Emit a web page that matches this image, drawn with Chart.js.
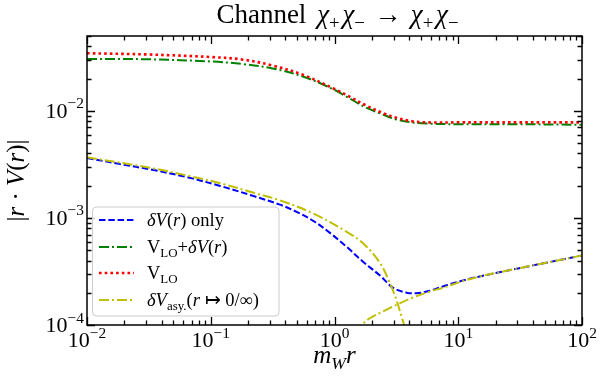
<!DOCTYPE html>
<html><head><meta charset="utf-8">
<script src="https://cdn.jsdelivr.net/npm/chart.js@4.4.0/dist/chart.umd.min.js"></script>
<style>html,body{margin:0;padding:0;background:#fff;}canvas{display:block;}</style>
</head><body>
<canvas id="c" width="603" height="381"></canvas>
<script>
// ---- data ----
const xLO    = [0.01, 0.0316, 0.1, 0.178, 0.316, 0.562, 1, 1.334, 1.778, 2.371, 3.162, 4.217, 5.623, 10, 31.62, 100];
const yLO    = [0.0345, 0.0336, 0.0318, 0.0302, 0.0265, 0.0216, 0.0160, 0.0135, 0.0113, 0.0097, 0.0086, 0.0080, 0.0078, 0.0078, 0.0078, 0.0078];
const yLOdV  = [0.0305, 0.0303, 0.0289, 0.0274, 0.0249, 0.0208, 0.0157, 0.0130, 0.0108, 0.0094, 0.0083, 0.0078, 0.0076, 0.0075, 0.0075, 0.0074];

const xdV = [0.01, 0.0185, 0.0346, 0.0643, 0.119, 0.222, 0.362, 0.494, 0.673, 0.918, 1.25, 1.70, 2.33, 2.98, 3.82, 4.60, 5.90, 8.04, 10.95, 14.9, 24.2, 50.1, 100];
const ydV = [0.00363, 0.00318, 0.00280, 0.00240, 0.00199, 0.00160, 0.00133, 0.00114, 0.000940, 0.000725, 0.000539, 0.000390, 0.000290, 0.000222, 0.0002005, 0.000198, 0.000209, 0.000235, 0.000261, 0.000284, 0.000320, 0.000379, 0.000446];

const xAsy0 = [0.01, 0.0346, 0.0643, 0.119, 0.222, 0.362, 0.673, 1.25, 1.70, 2.33, 2.80, 3.17, 3.48, 3.64, 3.80, 3.95];
const yAsy0 = [0.00368, 0.00290, 0.00249, 0.00211, 0.00172, 0.00146, 0.00110, 0.000744, 0.00058, 0.000380, 0.000247, 0.000171, 0.00012, 0.0001, 0.00006, 0.00001];

const xAsyInf = [1.45, 1.655, 1.93, 2.47, 3.27, 4.32, 5.90, 8.04, 10.95, 14.9, 24.2, 50.1, 100];
const yAsyInf = [0.000085, 0.0001, 0.0001156, 0.000134, 0.000157, 0.000181, 0.000205, 0.000228, 0.000258, 0.000284, 0.000320, 0.000379, 0.000446];

const xMajor = [0.01, 0.1, 1, 10, 100];
const xTickExp = ['\u22122', '\u22121', '0', '1', '2'];
const yMajor = [1e-4, 1e-3, 1e-2];
const yTickExp = ['\u22124', '\u22123', '\u22122'];
const xRange = [0.01, 100];
const yRange = [1e-4, 0.05];

const legendLabels = [
  [['\u03b4','i'],['V','i'],['(','r'],['r','i'],[')','r'],[' only','r']],
  [['V','r'],['LO','sub'],['+','r'],['\u03b4','i'],['V','i'],['(','r'],['r','i'],[')','r']],
  [['V','r'],['LO','sub']],
  [['\u03b4','i'],['V','i'],['asy.','sub'],['(','r'],['r','i'],[' \u21a6 ','r'],['0/\u221e','r'],[')','r']]
];
const titleParts = [['Channel','r'],[0.4,'gap'],['\u03c7','i'],['+','sub'],[0.1,'gap'],['\u03c7','i'],['\u2212','sub'],[0.35,'gap'],['\u2192','r'],[0.35,'gap'],['\u03c7','i'],['+','sub'],[0.1,'gap'],['\u03c7','i'],['\u2212','sub']];
const xLabelParts = [['m','i'],['W','subi'],['r','i']];
const yLabelParts = [['|','r'],['r','i'],[' \u00b7 ','r'],['V','i'],['(','r'],['r','i'],[')','r'],['|','r']];

// ---- styles ----
const S = {
  dV:  {color:'#0000ff', width:2,   dash:[6.5,2.8]},
  LOdV:{color:'#008000', width:2,   dash:[10,3,2,3]},
  LO:  {color:'#ff0000', width:2.6, dash:[2.6,3.1]},
  asy: {color:'#bfbf00', width:2,   dash:[10,3,2,3]}
};
const SERIF = '"Liberation Serif", "Times New Roman", serif';
function fnt(size, it){ return (it ? 'italic ' : '') + size + 'px ' + SERIF; }
function drawRich(ctx, parts, x, y, size, align){
  const segs = parts.map(([t,k]) => {
    if (k === 'gap') return {t: '', s: size, dy: 0, it: false, w: t*size};
    let s = size, dy = 0, it = (k === 'i');
    if (k === 'sub' || k === 'subi'){ s = size*0.7; dy = size*0.22; it = (k === 'subi'); }
    if (k === 'sup'){ s = size*0.7; dy = -size*0.43; }
    ctx.font = fnt(s, it);
    return {t, s, dy, it, w: ctx.measureText(t).width};
  });
  const W = segs.reduce((a,b) => a + b.w, 0);
  let x0 = align === 'center' ? x - W/2 : (align === 'right' ? x - W : x);
  ctx.textAlign = 'left'; ctx.textBaseline = 'alphabetic';
  for (const s of segs){ if (s.t){ ctx.font = fnt(s.s, s.it); ctx.fillText(s.t, x0, y + s.dy); } x0 += s.w; }
  return W;
}
function pts(xs, ys){ return xs.map((x,i) => ({x, y: ys[i]})); }
function ds(label, data, st, order){
  return {label, data, borderColor: st.color, borderWidth: st.width, borderDash: st.dash,
    pointRadius: 0, fill: false, tension: 0.35, clip: 0, order, borderCapStyle: 'butt'};
}

const decor = {
  id: 'decor',
  afterDraw(chart){
    const ctx = chart.ctx, xs = chart.scales.x, ys = chart.scales.y, a = chart.chartArea;
    ctx.save();
    ctx.fillStyle = '#000'; ctx.strokeStyle = '#000'; ctx.setLineDash([]);
    const MAJ = 8, MIN = 4.5;
    ctx.lineWidth = 1.3;
    const xt = [];
    xMajor.forEach((d,i) => { xt.push([d, MAJ]); if (i < xMajor.length-1) for (let m=2;m<10;m++) xt.push([d*m, MIN]); });
    const yt = [];
    yMajor.forEach(d => { yt.push([d, MAJ]); for (let m=2;m<10;m++) if (d*m <= yRange[1]*1.0001) yt.push([d*m, MIN]); });
    ctx.beginPath();
    for (const [v,L] of xt){
      const p = Math.round(xs.getPixelForValue(v)) + 0.5;
      ctx.moveTo(p, a.bottom); ctx.lineTo(p, a.bottom - L);
      ctx.moveTo(p, a.top); ctx.lineTo(p, a.top + L);
    }
    for (const [v,L] of yt){
      const p = Math.round(ys.getPixelForValue(v)) + 0.5;
      ctx.moveTo(a.left, p); ctx.lineTo(a.left + L, p);
      ctx.moveTo(a.right, p); ctx.lineTo(a.right - L, p);
    }
    ctx.stroke();
    ctx.lineWidth = 1.5;
    ctx.strokeRect(a.left, a.top, a.right - a.left, a.bottom - a.top);
    const TS = 22;
    xMajor.forEach((v,i) => {
      drawRich(ctx, [['10','r'],[xTickExp[i],'sup']], xs.getPixelForValue(v), a.bottom + 22, TS, 'center');
    });
    yMajor.forEach((v,i) => {
      drawRich(ctx, [['10','r'],[yTickExp[i],'sup']], a.left - 3, ys.getPixelForValue(v) + 7, TS, 'right');
    });
    const cx = (a.left + a.right)/2, cy = (a.top + a.bottom)/2;
    drawRich(ctx, xLabelParts, cx, 363, 25, 'center');
    ctx.save(); ctx.translate(24, cy); ctx.rotate(-Math.PI/2);
    drawRich(ctx, yLabelParts, 0, 0, 25, 'center');
    ctx.restore();
    drawRich(ctx, titleParts, cx + 3, 23, 27, 'center');
    // legend
    const bx = 92.5, by = 207, bw = 186.5, bh = 109, r = 4;
    ctx.beginPath();
    ctx.moveTo(bx + r, by); ctx.lineTo(bx + bw - r, by); ctx.arcTo(bx + bw, by, bx + bw, by + r, r);
    ctx.lineTo(bx + bw, by + bh - r); ctx.arcTo(bx + bw, by + bh, bx + bw - r, by + bh, r);
    ctx.lineTo(bx + r, by + bh); ctx.arcTo(bx, by + bh, bx, by + bh - r, r);
    ctx.lineTo(bx, by + r); ctx.arcTo(bx, by, bx + r, by, r); ctx.closePath();
    ctx.fillStyle = 'rgba(255,255,255,0.8)'; ctx.fill();
    ctx.strokeStyle = '#cccccc'; ctx.lineWidth = 1; ctx.stroke();
    const rows = [220, 247, 273, 300];
    const sts = [S.dV, S.LOdV, S.LO, S.asy];
    rows.forEach((yy,i) => {
      const st = sts[i];
      ctx.beginPath(); ctx.setLineDash(st.dash); ctx.lineWidth = st.width; ctx.strokeStyle = st.color; ctx.lineCap = 'butt';
      ctx.moveTo(99, yy); ctx.lineTo(134, yy); ctx.stroke();
      ctx.setLineDash([]);
      ctx.fillStyle = '#000';
      drawRich(ctx, legendLabels[i], 147, yy + 6, 18.5, 'left');
    });
    ctx.restore();
  }
};

new Chart(document.getElementById('c'), {
  type: 'line',
  data: {
    datasets: [
      ds('dV only', pts(xdV, ydV), S.dV, 4),
      ds('VLO+dV', pts(xLO, yLOdV), S.LOdV, 3),
      ds('VLO', pts(xLO, yLO), S.LO, 2),
      ds('dVasy 0', pts(xAsy0, yAsy0), S.asy, 1),
      ds('dVasy inf', pts(xAsyInf, yAsyInf), S.asy, 0)
    ]
  },
  options: {
    responsive: false, animation: false, devicePixelRatio: 1,
    layout: {padding: {left: 87, right: 21, top: 36, bottom: 56}},
    scales: {
      x: {type: 'logarithmic', min: xRange[0], max: xRange[1], display: false},
      y: {type: 'logarithmic', min: yRange[0], max: yRange[1], display: false}
    },
    plugins: {legend: {display: false}, title: {display: false}, tooltip: {enabled: false}}
  },
  plugins: [decor]
});
</script>
</body></html>
